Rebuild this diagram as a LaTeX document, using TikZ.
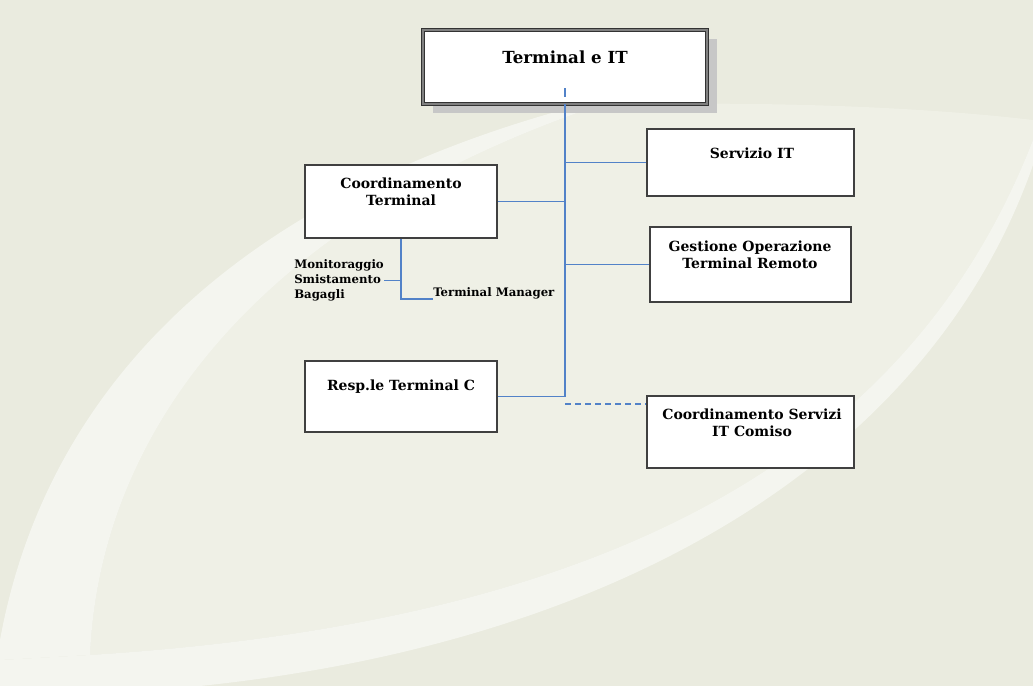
\documentclass[tikz,border=0pt]{standalone}
\usepackage{fontspec}
\setmainfont{DejaVu Serif}
\usetikzlibrary{fit,shadows}

\definecolor{bgbase}{RGB}{234,235,223}
\definecolor{bglight}{RGB}{239,240,230}
\definecolor{bgband}{RGB}{244,245,239}
\definecolor{linkblue}{RGB}{82,130,200}

\tikzset{
	box/.style={draw=black!75, line width=1.2pt, fill=white, inner sep=0pt},
	topbox/.style={box, draw=black!80, line width=0.9pt, double=black!50, double distance=1.3pt,
		drop shadow={shadow xshift=7.5pt, shadow yshift=-6.75pt, fill=black!22, opacity=1}},
	ttl/.style={font=\fontsize{12.5}{15}\selectfont\bfseries},
	lbl/.style={font=\fontsize{10.5}{13}\selectfont\bfseries, align=center},
	sml/.style={font=\fontsize{8.8}{11}\selectfont\bfseries, align=left, inner sep=0pt},
	link/.style={draw=linkblue, line width=1.3pt}
}

\begin{document}
\begin{tikzpicture}[x=0.75pt,y=-0.75pt]
	\useasboundingbox (0,0) rectangle (1033,686);
	% background
	\fill[bgbase] (0,0) rectangle (1033,686);
	\fill[bglight] (90,655) .. controls (100,430) and (260,220) .. (600,105)
		.. controls (800,100) and (950,110) .. (1033,120) -- (1033,140)
		.. controls (920,430) and (650,620) .. (90,655) -- cycle;
	\fill[bgband] (0,640) .. controls (40,420) and (200,200) .. (600,100) -- (600,105)
		.. controls (260,220) and (100,430) .. (90,655) -- (0,660) -- cycle;
	\fill[bgband] (1033,140) .. controls (920,430) and (650,620) .. (90,655) -- (0,660) -- (0,686) -- (200,686)
		.. controls (640,640) and (935,445) .. (1033,165) -- cycle;

	% boxes
	\node[topbox, fit={(423,30) (707,104)}] (top) {};
	\node[ttl] (topT) at (565,57) {Terminal e IT};
	\node[box, fit={(647,129) (854,196)}] (servizio) {};
	\node[lbl] (servizioT) at (752,153) {Servizio IT};
	\node[box, fit={(305,165) (497,238)}] (coord) {};
	\node[lbl] (coordT) at (401,192) {Coordinamento\\Terminal};
	\node[box, fit={(650,227) (851,302)}] (gestione) {};
	\node[lbl] (gestioneT) at (750,255) {Gestione Operazione\\Terminal Remoto};
	\node[box, fit={(305,361) (497,432)}] (resp) {};
	\node[lbl] (respT) at (401,387) {Resp.le Terminal C};
	\node[box, fit={(647,396) (854,468)}] (comiso) {};
	\node[lbl] (comisoT) at (752,423) {Coordinamento Servizi\\IT Comiso};
	% staff
	\node[sml, anchor=west] (moni) at (294,280.5) {Monitoraggio\\Smistamento\\Bagagli};
	\node[sml, anchor=base west] (tmgr) at (433,296) {Terminal Manager};

	% links
	\coordinate (tick) at (565,88);
	\draw[link, dash pattern=on 7pt off 5pt] (tick) -- (top.south);
	\draw[link] (top.south) |- (resp.east);
	\draw[link] (servizio.west) -- (servizio.west -| top.south);
	\draw[link] (coord.east) -- (coord.east -| top.south);
	\draw[link] (gestione.west) -- (gestione.west -| top.south);
	\coordinate (dash) at (565,404);
	\draw[link, dash pattern=on 4.5pt off 3pt] (dash) -- (dash -| comiso.west);
	\draw[link] (coord.south) |- (tmgr.south west);
	\draw[link] (moni.east) -- (moni.east -| coord.south);
\end{tikzpicture}
\end{document}
